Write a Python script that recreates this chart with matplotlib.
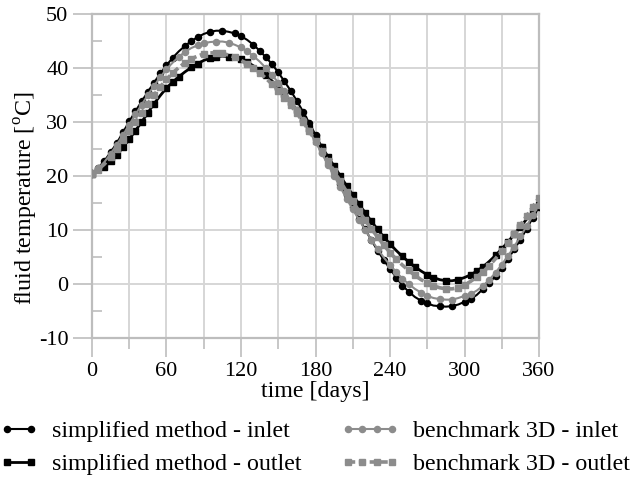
import matplotlib
matplotlib.use("Agg")
import matplotlib.pyplot as plt
from matplotlib.lines import Line2D
from matplotlib.legend_handler import HandlerLine2D
from matplotlib.ticker import MultipleLocator

# fluid temperature over one year, read every 5 days
days = list(range(0, 365, 5))

simplified_inlet = [
    20.5, 21.5, 22.8, 24.4, 26.1, 28.1, 30.1, 32.0, 33.8, 35.6,
    37.3, 39.0, 40.5, 41.9, 43.1, 44.1, 45.0, 45.7, 46.3, 46.7,
    46.9, 46.9, 46.7, 46.4, 45.9, 45.2, 44.3, 43.2, 42.0, 40.7,
    39.2, 37.5, 35.8, 33.9, 31.9, 29.8, 27.6, 25.4, 23.2, 20.9,
    18.6, 16.4, 14.2, 12.1, 10.1, 8.1, 6.2, 4.4, 2.8, 1.2,
    -0.3, -1.4, -2.4, -3.1, -3.6, -4.0, -4.1, -4.2, -4.1, -3.8,
    -3.3, -2.8, -2.0, -0.9, 0.2, 1.5, 2.9, 4.6, 6.4, 8.2,
    10.2, 12.3, 14.3,
]
simplified_outlet = [
    20.4, 20.9, 21.7, 22.7, 23.9, 25.3, 26.8, 28.4, 30.0, 31.7,
    33.4, 34.9, 36.3, 37.4, 38.4, 39.3, 40.1, 40.8, 41.4, 41.8,
    42.1, 42.2, 42.1, 41.9, 41.6, 41.1, 40.4, 39.6, 38.7, 37.6,
    36.4, 35.1, 33.7, 32.2, 30.6, 28.9, 27.2, 25.4, 23.6, 21.8,
    20.0, 18.2, 16.5, 14.8, 13.2, 11.6, 10.1, 8.7, 7.4, 6.2,
    5.1, 4.1, 3.2, 2.4, 1.7, 1.2, 0.8, 0.6, 0.6, 0.8,
    1.2, 1.7, 2.4, 3.2, 4.2, 5.3, 6.5, 7.8, 9.2, 10.6,
    12.0, 13.4, 14.6,
]
benchmark_inlet = [
    20.5, 21.4, 22.6, 24.1, 25.8, 27.6, 29.5, 31.4, 33.2, 35.0,
    36.7, 38.3, 39.8, 41.0, 42.1, 43.0, 43.7, 44.2, 44.6, 44.8,
    44.9, 44.9, 44.7, 44.3, 43.8, 43.1, 42.2, 41.2, 40.0, 38.7,
    37.3, 35.7, 34.0, 32.2, 30.3, 28.3, 26.3, 24.2, 22.1, 20.0,
    17.9, 15.8, 13.8, 11.9, 10.0, 8.2, 6.5, 4.9, 3.5, 2.2,
    1.0, 0.0, -0.9, -1.6, -2.2, -2.6, -2.8, -2.9, -2.9, -2.6,
    -2.2, -1.9, -1.2, -0.3, 0.8, 2.1, 3.6, 5.2, 6.9, 8.8,
    10.7, 12.7, 14.7,
]
benchmark_outlet = [
    20.4, 21.2, 22.2, 23.5, 25.0, 26.6, 28.3, 30.0, 31.7, 33.4,
    35.0, 36.5, 37.9, 39.1, 40.1, 41.0, 41.7, 42.2, 42.6, 42.8,
    42.8, 42.7, 42.4, 42.0, 41.4, 40.8, 40.0, 39.1, 38.1, 37.0,
    35.8, 34.5, 33.1, 31.6, 30.0, 28.3, 26.5, 24.7, 22.8, 20.9,
    19.0, 17.1, 15.3, 13.5, 11.8, 10.2, 8.7, 7.2, 5.8, 4.6,
    3.5, 2.5, 1.6, 0.8, 0.2, -0.3, -0.7, -0.9, -0.9, -0.7,
    -0.2, 0.5, 1.3, 2.3, 3.4, 4.7, 6.1, 7.6, 9.2, 10.9,
    12.6, 14.3, 16.0,
]

labels = [
    "simplified method - inlet",
    "simplified method - outlet",
    "benchmark 3D - inlet",
    "benchmark 3D - outlet",
]

plt.rcParams["font.family"] = "Liberation Serif"
plt.rcParams["mathtext.fontset"] = "custom"
plt.rcParams["mathtext.rm"] = "Liberation Serif"
plt.rcParams["axes.unicode_minus"] = False
plt.rcParams["font.size"] = 16

label_size = 17.3
grey = "#8c8c8c"
axis_grey = "#bdbdbd"
styles = [
    dict(color="black", lw=1.5, marker="o", ms=4.4, ls="-"),
    dict(color="black", lw=2.0, marker="s", ms=4.6, ls="-"),
    dict(color=grey, lw=1.5, marker="o", ms=4.4, ls="-"),
    dict(color=grey, lw=2.6, marker="s", ms=4.6, ls=(0, (2, 1))),
]

fig = plt.figure(figsize=(6.34, 4.79), dpi=100)
ax = fig.add_axes([0.1451, 0.2944, 0.7051, 0.6764])

series = [simplified_inlet, simplified_outlet, benchmark_inlet, benchmark_outlet]
# grey curves first so the black ones sit on top
for idx in [2, 3, 0, 1]:
    ax.plot(days, series[idx], markevery=0.02, zorder=3 + idx, **styles[idx])

ax.set_xlim(0, 360)
ax.set_ylim(-10, 50)
ax.xaxis.set_major_locator(MultipleLocator(60))
ax.xaxis.set_minor_locator(MultipleLocator(30))
ax.yaxis.set_major_locator(MultipleLocator(10))
ax.yaxis.set_minor_locator(MultipleLocator(5))

ax.grid(which="major", color="#d6d6d6", lw=1.4)
ax.grid(which="minor", axis="x", color="#d6d6d6", lw=1.4)
ax.set_axisbelow(True)

for sp in ax.spines.values():
    sp.set_color(axis_grey)
    sp.set_linewidth(1.6)

ax.tick_params(which="major", direction="out", length=14, width=1.2,
               color=axis_grey, pad=3)
ax.tick_params(axis="x", which="minor", direction="out", length=8,
               width=1.2, color=axis_grey)
ax.tick_params(axis="y", which="minor", direction="in", length=7,
               width=1.2, color=axis_grey)

ax.set_xlabel("time [days]", fontsize=label_size, labelpad=0)
ax.set_ylabel(r"fluid temperature [$^{\rm o}$C]", fontsize=label_size)
ax.yaxis.set_label_coords(-0.117, 0.43)

# legend proxies without markevery, one legend per column
handles = [Line2D([], [], **s) for s in styles]
common = dict(loc="upper left", frameon=False, fontsize=label_size,
              handletextpad=0.55, labelspacing=0.45, borderpad=0,
              borderaxespad=0)
leg1 = fig.legend(handles[:2], labels[:2], bbox_to_anchor=(0.0, 0.122),
                  handlelength=1.6,
                  handler_map={h: HandlerLine2D(numpoints=2) for h in handles[:2]},
                  **common)
leg2 = fig.legend(handles[2:], labels[2:], bbox_to_anchor=(0.537, 0.122),
                  handlelength=2.45,
                  handler_map={h: HandlerLine2D(numpoints=4) for h in handles[2:]},
                  **common)

fig.savefig("out.png", dpi=100)
